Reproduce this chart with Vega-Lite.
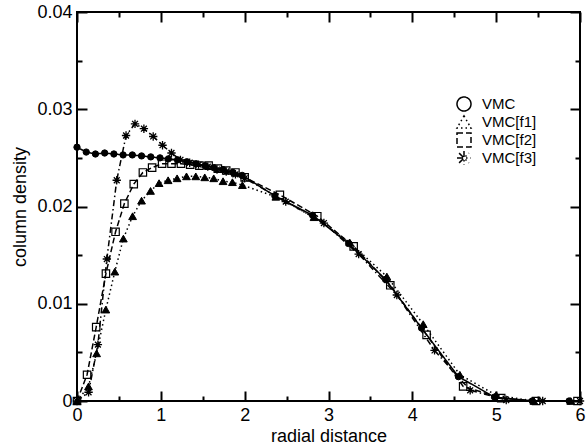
{
  "$schema": "https://vega.github.io/schema/vega-lite/v6.json",
  "width": 503,
  "height": 389,
  "autosize": {"type": "none"},
  "padding": {"left": 77, "top": 12, "right": 6, "bottom": 45},
  "background": "white",
  "config": {
    "view": {"stroke": "black", "strokeWidth": 2},
    "font": "Liberation Sans",
    "axis": {"grid": false, "domain": false, "tickColor": "black", "tickWidth": 2, "labelColor": "black", "titleColor": "black", "labelFont": "Liberation Sans", "titleFont": "Liberation Sans", "titleFontWeight": "normal", "labelFontSize": 18, "titleFontSize": 18, "labelFlush": false, "labelOverlap": false}
  },
  "data": {"values": [
    {"series": "VMC", "x": 0.0, "y": 0.0261},
    {"series": "VMC", "x": 0.11, "y": 0.0256},
    {"series": "VMC", "x": 0.22, "y": 0.0254},
    {"series": "VMC", "x": 0.33, "y": 0.0255},
    {"series": "VMC", "x": 0.44, "y": 0.0254},
    {"series": "VMC", "x": 0.55, "y": 0.0253},
    {"series": "VMC", "x": 0.66, "y": 0.0253},
    {"series": "VMC", "x": 0.77, "y": 0.0252},
    {"series": "VMC", "x": 0.88, "y": 0.0251},
    {"series": "VMC", "x": 0.99, "y": 0.0250},
    {"series": "VMC", "x": 1.09, "y": 0.0249},
    {"series": "VMC", "x": 1.20, "y": 0.0248},
    {"series": "VMC", "x": 1.31, "y": 0.0246},
    {"series": "VMC", "x": 1.42, "y": 0.0244},
    {"series": "VMC", "x": 1.53, "y": 0.0242},
    {"series": "VMC", "x": 1.63, "y": 0.0240},
    {"series": "VMC", "x": 1.74, "y": 0.0238},
    {"series": "VMC", "x": 1.86, "y": 0.0235},
    {"series": "VMC", "x": 1.97, "y": 0.0232},
    {"series": "VMC", "x": 2.36, "y": 0.0211},
    {"series": "VMC", "x": 2.81, "y": 0.0191},
    {"series": "VMC", "x": 3.24, "y": 0.0162},
    {"series": "VMC", "x": 3.68, "y": 0.0125},
    {"series": "VMC", "x": 4.11, "y": 0.0075},
    {"series": "VMC", "x": 4.55, "y": 0.0025},
    {"series": "VMC", "x": 4.98, "y": 0.0004},
    {"series": "VMC", "x": 5.43, "y": 0.0},
    {"series": "VMC", "x": 5.87, "y": 0.0},
    {"series": "VMC[f1]", "x": 0.0, "y": 0.0},
    {"series": "VMC[f1]", "x": 0.137, "y": 0.0015},
    {"series": "VMC[f1]", "x": 0.234, "y": 0.0049},
    {"series": "VMC[f1]", "x": 0.344, "y": 0.0094},
    {"series": "VMC[f1]", "x": 0.451, "y": 0.0133},
    {"series": "VMC[f1]", "x": 0.553, "y": 0.0167},
    {"series": "VMC[f1]", "x": 0.663, "y": 0.0190},
    {"series": "VMC[f1]", "x": 0.770, "y": 0.0206},
    {"series": "VMC[f1]", "x": 0.877, "y": 0.0216},
    {"series": "VMC[f1]", "x": 0.979, "y": 0.0224},
    {"series": "VMC[f1]", "x": 1.087, "y": 0.0227},
    {"series": "VMC[f1]", "x": 1.194, "y": 0.0229},
    {"series": "VMC[f1]", "x": 1.306, "y": 0.0231},
    {"series": "VMC[f1]", "x": 1.417, "y": 0.0231},
    {"series": "VMC[f1]", "x": 1.524, "y": 0.0230},
    {"series": "VMC[f1]", "x": 1.631, "y": 0.0229},
    {"series": "VMC[f1]", "x": 1.742, "y": 0.0226},
    {"series": "VMC[f1]", "x": 1.854, "y": 0.0225},
    {"series": "VMC[f1]", "x": 1.973, "y": 0.0222},
    {"series": "VMC[f1]", "x": 2.372, "y": 0.0210},
    {"series": "VMC[f1]", "x": 2.827, "y": 0.0189},
    {"series": "VMC[f1]", "x": 3.254, "y": 0.0163},
    {"series": "VMC[f1]", "x": 3.696, "y": 0.0128},
    {"series": "VMC[f1]", "x": 4.13, "y": 0.0079},
    {"series": "VMC[f1]", "x": 4.567, "y": 0.0027},
    {"series": "VMC[f1]", "x": 5.0, "y": 0.0006},
    {"series": "VMC[f1]", "x": 5.45, "y": 0.0},
    {"series": "VMC[f1]", "x": 5.89, "y": 0.0},
    {"series": "VMC[f2]", "x": 0.0, "y": 0.0},
    {"series": "VMC[f2]", "x": 0.12, "y": 0.0027},
    {"series": "VMC[f2]", "x": 0.229, "y": 0.0076},
    {"series": "VMC[f2]", "x": 0.345, "y": 0.0131},
    {"series": "VMC[f2]", "x": 0.46, "y": 0.0174},
    {"series": "VMC[f2]", "x": 0.565, "y": 0.0203},
    {"series": "VMC[f2]", "x": 0.677, "y": 0.0223},
    {"series": "VMC[f2]", "x": 0.786, "y": 0.0235},
    {"series": "VMC[f2]", "x": 0.896, "y": 0.0240},
    {"series": "VMC[f2]", "x": 1.015, "y": 0.0244},
    {"series": "VMC[f2]", "x": 1.127, "y": 0.0244},
    {"series": "VMC[f2]", "x": 1.24, "y": 0.0244},
    {"series": "VMC[f2]", "x": 1.35, "y": 0.0243},
    {"series": "VMC[f2]", "x": 1.46, "y": 0.0242},
    {"series": "VMC[f2]", "x": 1.57, "y": 0.0242},
    {"series": "VMC[f2]", "x": 1.68, "y": 0.0239},
    {"series": "VMC[f2]", "x": 1.78, "y": 0.0237},
    {"series": "VMC[f2]", "x": 1.89, "y": 0.0235},
    {"series": "VMC[f2]", "x": 2.0, "y": 0.0230},
    {"series": "VMC[f2]", "x": 2.42, "y": 0.0212},
    {"series": "VMC[f2]", "x": 2.866, "y": 0.0190},
    {"series": "VMC[f2]", "x": 3.30, "y": 0.0159},
    {"series": "VMC[f2]", "x": 3.737, "y": 0.0119},
    {"series": "VMC[f2]", "x": 4.17, "y": 0.0068},
    {"series": "VMC[f2]", "x": 4.606, "y": 0.0015},
    {"series": "VMC[f2]", "x": 5.06, "y": 0.0003},
    {"series": "VMC[f2]", "x": 5.476, "y": 0.0},
    {"series": "VMC[f2]", "x": 5.97, "y": 0.0},
    {"series": "VMC[f3]", "x": 0.0, "y": 0.0},
    {"series": "VMC[f3]", "x": 0.138, "y": 0.0009},
    {"series": "VMC[f3]", "x": 0.249, "y": 0.0058},
    {"series": "VMC[f3]", "x": 0.356, "y": 0.0146},
    {"series": "VMC[f3]", "x": 0.474, "y": 0.0227},
    {"series": "VMC[f3]", "x": 0.585, "y": 0.0273},
    {"series": "VMC[f3]", "x": 0.692, "y": 0.0285},
    {"series": "VMC[f3]", "x": 0.798, "y": 0.0280},
    {"series": "VMC[f3]", "x": 0.909, "y": 0.0272},
    {"series": "VMC[f3]", "x": 1.02, "y": 0.0263},
    {"series": "VMC[f3]", "x": 1.127, "y": 0.0255},
    {"series": "VMC[f3]", "x": 1.234, "y": 0.0248},
    {"series": "VMC[f3]", "x": 1.344, "y": 0.0245},
    {"series": "VMC[f3]", "x": 1.45, "y": 0.0243},
    {"series": "VMC[f3]", "x": 1.56, "y": 0.0241},
    {"series": "VMC[f3]", "x": 1.67, "y": 0.0238},
    {"series": "VMC[f3]", "x": 1.78, "y": 0.0236},
    {"series": "VMC[f3]", "x": 1.89, "y": 0.0233},
    {"series": "VMC[f3]", "x": 2.0, "y": 0.0229},
    {"series": "VMC[f3]", "x": 2.49, "y": 0.0205},
    {"series": "VMC[f3]", "x": 2.945, "y": 0.0183},
    {"series": "VMC[f3]", "x": 3.36, "y": 0.0151},
    {"series": "VMC[f3]", "x": 3.815, "y": 0.0109},
    {"series": "VMC[f3]", "x": 4.265, "y": 0.0052},
    {"series": "VMC[f3]", "x": 4.69, "y": 0.0011},
    {"series": "VMC[f3]", "x": 5.12, "y": 0.0001},
    {"series": "VMC[f3]", "x": 5.555, "y": 0.0},
    {"series": "VMC[f3]", "x": 6.0, "y": 0.0}
  ]},
  "resolve": {"axis": {"x": "independent", "y": "independent"}},
  "layer": [
    {
      "mark": {"type": "line", "color": "black", "strokeWidth": 1.5, "clip": false},
      "encoding": {
        "x": {"field": "x", "type": "quantitative", "scale": {"domain": [0, 6], "nice": false, "zero": false},
              "axis": {"orient": "bottom", "title": "radial distance", "values": [0, 1, 2, 3, 4, 5, 6], "format": "d", "ticks": false, "tickSize": 0, "labelPadding": 5, "titleBaseline": "alphabetic", "titleY": 40}},
        "y": {"field": "y", "type": "quantitative", "scale": {"domain": [0, 0.04], "nice": false, "zero": false},
              "axis": {"orient": "left", "title": "column density", "values": [0, 0.01, 0.02, 0.03, 0.04], "format": ".2~f", "ticks": false, "tickSize": 0, "labelPadding": 5, "titleBaseline": "alphabetic", "titleX": -52}},
        "strokeDash": {"field": "series", "type": "nominal",
              "scale": {"domain": ["VMC", "VMC[f1]", "VMC[f2]", "VMC[f3]"], "range": [[1, 0], [1.5, 3], [6, 3], [6, 3, 1.5, 3]]},
              "legend": {
                "title": null, "orient": "none", "legendX": 379, "legendY": 84, "padding": 0,
                "symbolSize": 196, "labelOffset": 10, "labelFontSize": 15, "labelFont": "Liberation Sans", "labelColor": "black", "rowPadding": -2,
                "encode": {"symbols": {
                  "shape": {"value": {"expr": "datum.value === 'VMC' ? 'M-1.8,0a0.5,0.5 0 1,0 1,0a0.5,0.5 0 1,0 -1,0Z M0.8,0a0.5,0.5 0 1,0 1,0a0.5,0.5 0 1,0 -1,0Z M-0.55,0L0.55,0' : datum.value === 'VMC[f1]' ? 'M-1.3,-0.55L-0.75,0.45L-1.85,0.45Z M1.3,-0.55L1.85,0.45L0.75,0.45Z M-0.3,-0.07h0.14v0.14h-0.14Z M0.16,-0.07h0.14v0.14h-0.14Z' : datum.value === 'VMC[f2]' ? 'M-1.75,-0.45h0.9v0.9h-0.9Z M0.85,-0.45h0.9v0.9h-0.9Z M-1.32,-0.02h0.04v0.04h-0.04Z M1.28,-0.02h0.04v0.04h-0.04Z M-0.6,0L0.6,0' : 'M-1.3,-0.5L-1.3,0.5M-1.8,0L-0.8,0M-1.65,-0.35L-0.95,0.35M-1.65,0.35L-0.95,-0.35 M1.3,-0.5L1.3,0.5M0.8,0L1.8,0M0.95,-0.35L1.65,0.35M0.95,0.35L1.65,-0.35 M-0.6,0L0.6,0'"}},
                  "fill": {"value": {"expr": "datum.value === 'VMC[f2]' ? 'transparent' : 'black'"}},
                  "stroke": {"value": "black"},
                  "strokeDash": {"value": [1, 0]},
                  "strokeWidth": {"value": 1.2},
                  "opacity": {"value": 1}
                }}
              }},
        "detail": {"field": "series"}
      }
    },
    {
      "transform": [{"filter": "datum.series === 'VMC'"}],
      "mark": {"type": "point", "filled": true, "fill": "black", "stroke": "black", "strokeWidth": 1, "size": 40, "opacity": 1, "clip": false},
      "encoding": {
        "x": {"field": "x", "type": "quantitative", "axis": {"orient": "bottom", "offset": -10, "tickSize": 10, "labels": false, "title": null, "values": [0, 1, 2, 3, 4, 5, 6]}},
        "y": {"field": "y", "type": "quantitative", "axis": {"orient": "left", "offset": -10, "tickSize": 10, "labels": false, "title": null, "values": [0, 0.01, 0.02, 0.03, 0.04]}},
        "shape": {"field": "series", "type": "nominal",
          "scale": {"domain": ["VMC", "VMC[f1]", "VMC[f2]", "VMC[f3]"], "range": ["circle", "triangle-up", "square", "M0,-1L0,1M-1,0L1,0M-0.7,-0.7L0.7,0.7M-0.7,0.7L0.7,-0.7"]},
          "legend": {
            "title": null, "orient": "none", "legendX": 379, "legendY": 84, "padding": 0,
            "symbolSize": 196, "labelOffset": 10, "labelFontSize": 15, "labelFont": "Liberation Sans", "labelColor": "black", "rowPadding": -2,
            "encode": {"symbols": {
              "shape": {"value": {"expr": "datum.value === 'VMC' ? 'M-1.8,0a0.5,0.5 0 1,0 1,0a0.5,0.5 0 1,0 -1,0Z M0.8,0a0.5,0.5 0 1,0 1,0a0.5,0.5 0 1,0 -1,0Z M-0.55,0L0.55,0' : datum.value === 'VMC[f1]' ? 'M-1.3,-0.55L-0.75,0.45L-1.85,0.45Z M1.3,-0.55L1.85,0.45L0.75,0.45Z M-0.3,-0.07h0.14v0.14h-0.14Z M0.16,-0.07h0.14v0.14h-0.14Z' : datum.value === 'VMC[f2]' ? 'M-1.75,-0.45h0.9v0.9h-0.9Z M0.85,-0.45h0.9v0.9h-0.9Z M-1.32,-0.02h0.04v0.04h-0.04Z M1.28,-0.02h0.04v0.04h-0.04Z M-0.6,0L0.6,0' : 'M-1.3,-0.5L-1.3,0.5M-1.8,0L-0.8,0M-1.65,-0.35L-0.95,0.35M-1.65,0.35L-0.95,-0.35 M1.3,-0.5L1.3,0.5M0.8,0L1.8,0M0.95,-0.35L1.65,0.35M0.95,0.35L1.65,-0.35 M-0.6,0L0.6,0'"}},
              "fill": {"value": {"expr": "datum.value === 'VMC[f2]' ? 'transparent' : 'black'"}},
              "stroke": {"value": "black"},
              "strokeDash": {"value": [1, 0]},
              "strokeWidth": {"value": 1.2},
              "opacity": {"value": 1}
            }}
          }}
      }
    },
    {
      "transform": [{"filter": "datum.series === 'VMC[f1]'"}],
      "mark": {"type": "point", "filled": true, "fill": "black", "stroke": "black", "strokeWidth": 1, "size": 60, "opacity": 1, "clip": false},
      "encoding": {
        "x": {"field": "x", "type": "quantitative", "axis": {"orient": "bottom", "offset": -5, "tickSize": 5, "labels": false, "title": null, "values": [0.5, 1.5, 2.5, 3.5, 4.5, 5.5]}},
        "y": {"field": "y", "type": "quantitative", "axis": {"orient": "left", "offset": -5, "tickSize": 5, "labels": false, "title": null, "values": [0.005, 0.015, 0.025, 0.035]}},
        "shape": {"field": "series", "type": "nominal"}
      }
    },
    {
      "transform": [{"filter": "datum.series === 'VMC[f2]'"}],
      "mark": {"type": "point", "filled": false, "fill": "transparent", "stroke": "black", "strokeWidth": 1.2, "size": 55, "opacity": 1, "clip": false},
      "encoding": {
        "x": {"field": "x", "type": "quantitative", "axis": {"orient": "top", "offset": -10, "tickSize": 10, "labels": false, "title": null, "values": [0, 1, 2, 3, 4, 5, 6]}},
        "y": {"field": "y", "type": "quantitative", "axis": {"orient": "right", "offset": -10, "tickSize": 10, "labels": false, "title": null, "values": [0, 0.01, 0.02, 0.03, 0.04]}},
        "shape": {"field": "series", "type": "nominal"}
      }
    },
    {
      "transform": [{"filter": "datum.series === 'VMC[f3]'"}],
      "mark": {"type": "point", "filled": false, "stroke": "black", "strokeWidth": 1.3, "size": 70, "opacity": 1, "clip": false},
      "encoding": {
        "x": {"field": "x", "type": "quantitative", "axis": {"orient": "top", "offset": -5, "tickSize": 5, "labels": false, "title": null, "values": [0.5, 1.5, 2.5, 3.5, 4.5, 5.5]}},
        "y": {"field": "y", "type": "quantitative", "axis": {"orient": "right", "offset": -5, "tickSize": 5, "labels": false, "title": null, "values": [0.005, 0.015, 0.025, 0.035]}},
        "shape": {"field": "series", "type": "nominal"}
      }
    }
  ]
}
